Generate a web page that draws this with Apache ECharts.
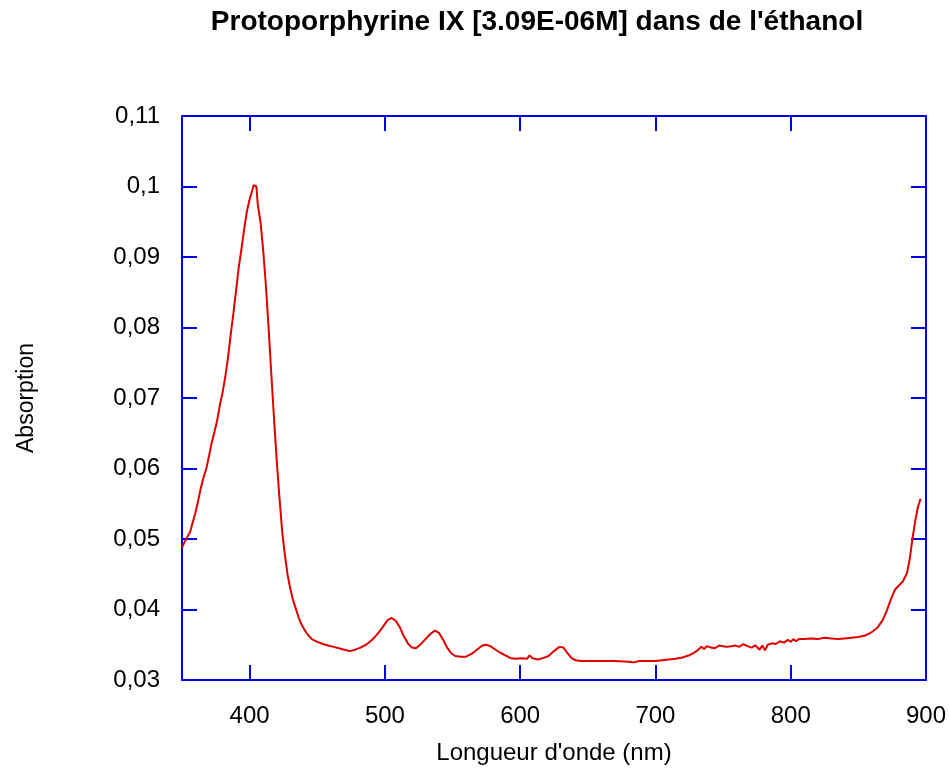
<!DOCTYPE html>
<html>
<head>
<meta charset="utf-8">
<script src="https://cdn.jsdelivr.net/npm/echarts@6/dist/echarts.min.js"></script>
<style>html,body{margin:0;padding:0;background:#fff}#c{width:949px;height:778px}</style>
</head>
<body>
<div id="c"></div>
<script>
const wavelengths = [350,352,354,356,358,360,362,364,366,368,370,372,374,376,378,380,382,384,386,388,390,392,394,396,398,400,402,403,404,405,406,408,410,412,414,416,418,420,422,424,426,428,430,432,434,436,438,440,442,444,446,448,450,454,458,462,466,470,474,478,482,486,490,494,498,502,505,508,511,514,517,520,523,526,530,534,537,540,543,546,549,552,556,560,564,568,572,575,578,581,585,589,593,597,601,605,607,609,613,617,621,625,629,632,635,638,641,645,650,660,670,680,684,688,700,705,710,715,720,725,728,731,734,736,738,741,744,747,750,753,756,759,762,765,768,771,774,777,779,781,783,786,789,792,795,798,800,802,804,806,810,815,820,825,830,835,840,845,850,855,860,864,868,871,874,877,880,883,886,888,890,892,894,896];
const absorbance = [0.0488,0.0496,0.0503,0.0510,0.0524,0.0538,0.0555,0.0573,0.0588,0.0600,0.0618,0.0637,0.0652,0.0668,0.0690,0.0708,0.0730,0.0757,0.0790,0.0820,0.0853,0.0886,0.0912,0.0940,0.0965,0.0982,0.0995,0.1002,0.1003,0.1000,0.0975,0.0950,0.0910,0.0860,0.0800,0.0735,0.0672,0.0612,0.0560,0.0512,0.0478,0.0450,0.0430,0.0414,0.0402,0.0390,0.0380,0.0373,0.0367,0.0362,0.0358,0.0356,0.0354,0.0351,0.0349,0.0347,0.0345,0.0343,0.0341,0.0343,0.0346,0.0350,0.0356,0.0364,0.0374,0.0385,0.0388,0.0384,0.0375,0.0362,0.0352,0.0346,0.0345,0.0350,0.0358,0.0366,0.0370,0.0367,0.0357,0.0346,0.0338,0.0334,0.0333,0.0333,0.0337,0.0343,0.0349,0.0350,0.0348,0.0344,0.0339,0.0335,0.0331,0.0330,0.0331,0.0330,0.0335,0.0331,0.0329,0.0331,0.0334,0.0341,0.0347,0.0346,0.0338,0.0331,0.0328,0.0327,0.0327,0.0327,0.0327,0.0326,0.0325,0.0327,0.0327,0.0328,0.0329,0.0330,0.0332,0.0335,0.0338,0.0342,0.0347,0.0344,0.0348,0.0346,0.0345,0.0349,0.0348,0.0347,0.0348,0.0349,0.0347,0.0351,0.0348,0.0346,0.0349,0.0343,0.0349,0.0342,0.0350,0.0352,0.0351,0.0355,0.0353,0.0357,0.0354,0.0358,0.0355,0.0358,0.0358,0.0359,0.0358,0.0360,0.0359,0.0358,0.0359,0.0360,0.0361,0.0363,0.0368,0.0374,0.0385,0.0398,0.0414,0.0428,0.0434,0.0440,0.0452,0.0472,0.0500,0.0525,0.0545,0.0557];
const xTicks = [400,500,600,700,800,900];
const titleText = "Protoporphyrine IX [3.09E-06M] dans de l'éthanol";
const xName = "Longueur d'onde (nm)";
const yName = "Absorption";

const blue = '#0000e6';
const font = 'Liberation Sans, Arial, sans-serif';
const chart = echarts.init(document.getElementById('c'));
const yFmt = v => String(Math.round(v * 100) / 100).replace('.', ',');
const axisLine = { show: true, onZero: false, lineStyle: { color: blue, width: 2 } };
const tickStyle = { show: true, inside: true, length: 15, lineStyle: { color: blue, width: 2 } };

chart.setOption({
  animation: false,
  backgroundColor: '#fff',
  title: {
    text: titleText, left: 532, top: 3, textAlign: 'center',
    textStyle: { fontFamily: font, fontWeight: 'bold', fontSize: 28, color: '#000' }
  },
  grid: { left: 182, right: 23, top: 116, bottom: 98, containLabel: false },
  xAxis: [
    { type: 'value', position: 'bottom', min: 350, max: 900,
      name: xName, nameLocation: 'middle', nameGap: 61,
      nameTextStyle: { fontFamily: font, fontSize: 24, color: '#000' },
      axisLine, axisTick: Object.assign({ customValues: xTicks }, tickStyle),
      axisLabel: { customValues: xTicks, margin: 24, fontFamily: font, fontSize: 24, color: '#000' },
      splitLine: { show: false } },
    { type: 'value', position: 'top', min: 350, max: 900,
      axisLine, axisTick: Object.assign({ customValues: xTicks }, tickStyle),
      axisLabel: { show: false }, splitLine: { show: false } }
  ],
  yAxis: [
    { type: 'value', position: 'left', min: 0.03, max: 0.11, interval: 0.01,
      name: yName, nameLocation: 'middle', nameGap: 144, nameRotate: 90,
      nameTextStyle: { fontFamily: font, fontSize: 23, color: '#000' },
      axisLine, axisTick: tickStyle,
      axisLabel: { formatter: yFmt, margin: 22, fontFamily: font, fontSize: 24, color: '#000' },
      splitLine: { show: false } },
    { type: 'value', position: 'right', min: 0.03, max: 0.11, interval: 0.01,
      axisLine, axisTick: tickStyle, axisLabel: { show: false }, splitLine: { show: false } }
  ],
  series: [{
    type: 'line', xAxisIndex: 0, yAxisIndex: 0,
    data: wavelengths.map((w, i) => [w, absorbance[i]]),
    showSymbol: false, lineStyle: { color: '#e00000', width: 2 }, silent: true
  }]
});
</script>
</body>
</html>
